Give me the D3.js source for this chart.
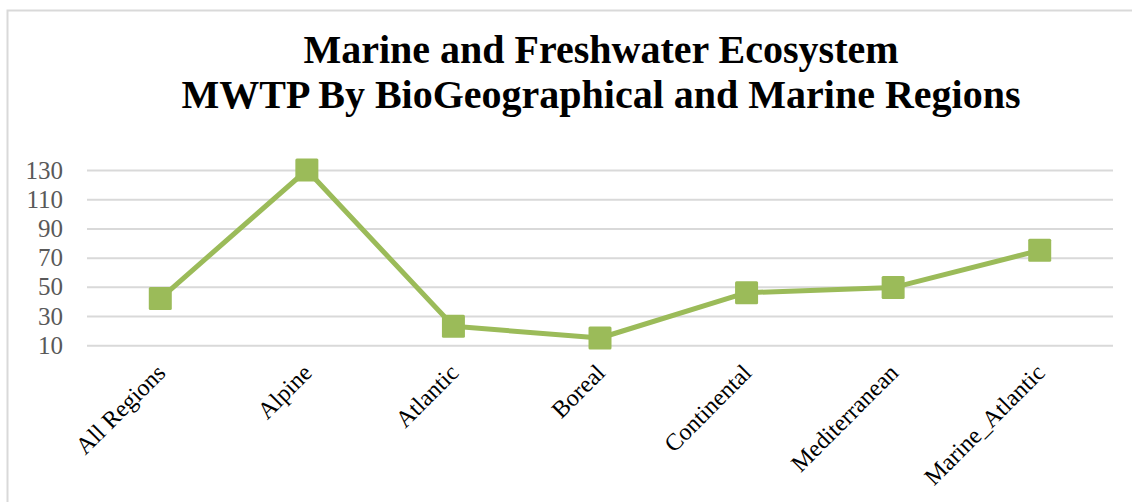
<!DOCTYPE html>
<html>
<head>
<meta charset="utf-8">
<script src="https://cdn.jsdelivr.net/npm/d3@7"></script>
<style>
  html, body { margin: 0; padding: 0; background: #fff; }
  svg { display: block; }
</style>
</head>
<body>
<svg id="chart" width="1132" height="502"></svg>
<script>
// Regions and their marginal willingness to pay
const regions = ["All Regions", "Alpine", "Atlantic", "Boreal", "Continental", "Mediterranean", "Marine_Atlantic"];
const mwtp = [42, 130, 23, 15, 46, 49.5, 75];
const yTicks = [10, 30, 50, 70, 90, 110, 130];
const titleLines = ["Marine and Freshwater Ecosystem", "MWTP By BioGeographical and Marine Regions"];

const W = 1132, H = 502;
const plot = { left: 87, right: 1113, top: 170, bottom: 345.3 };
const green = "#9BBB59";

const svg = d3.select("#chart");

// chart area frame
svg.append("rect")
  .attr("x", 7.5).attr("y", 10.5)
  .attr("width", W + 20).attr("height", H + 20)
  .attr("fill", "#fff")
  .attr("stroke", "#d9d9d9").attr("stroke-width", 2);

const x = d3.scalePoint().domain(regions).range([plot.left, plot.right]).padding(0.5);
const y = d3.scaleLinear().domain([10, 130]).range([plot.bottom, plot.top]);

// title
const titleX = 601;
const title = svg.append("text")
  .attr("x", titleX).attr("y", 63)
  .attr("text-anchor", "middle")
  .attr("font-family", "'Liberation Serif', 'Times New Roman', serif")
  .attr("font-weight", "bold")
  .attr("font-size", 40)
  .attr("fill", "#000");
titleLines.forEach((t, i) => {
  title.append("tspan").attr("x", titleX).attr("dy", i === 0 ? 0 : 45).text(t);
});

// horizontal gridlines + y labels
const yAxis = d3.axisLeft(y).tickValues(yTicks).tickSize(-(plot.right - plot.left)).tickPadding(24);
const gy = svg.append("g").attr("transform", `translate(${plot.left},0)`).call(yAxis);
gy.select(".domain").remove();
gy.selectAll(".tick line").attr("stroke", "#d9d9d9").attr("stroke-width", 2);
gy.selectAll(".tick text")
  .attr("fill", "#595959")
  .attr("font-family", "'Liberation Serif', 'Times New Roman', serif")
  .attr("font-size", 25);

// category labels, rotated
const xAxis = d3.axisBottom(x).tickSize(0).tickPadding(0);
const gx = svg.append("g").attr("transform", `translate(0,${plot.bottom})`).call(xAxis);
gx.select(".domain").remove();
gx.selectAll(".tick text")
  .attr("fill", "#000")
  .attr("font-family", "'Liberation Serif', 'Times New Roman', serif")
  .attr("font-size", 24)
  .attr("text-anchor", "end")
  .attr("dy", null)
  .attr("y", null)
  .attr("transform", "translate(6,29) rotate(-45)");

// series line
const line = d3.line().x((d, i) => x(regions[i])).y(d => y(d));
svg.append("path")
  .datum(mwtp)
  .attr("d", line)
  .attr("fill", "none")
  .attr("stroke", green)
  .attr("stroke-width", 5)
  .attr("stroke-linejoin", "round");

// square markers
const ms = 23;
svg.selectAll("rect.marker")
  .data(mwtp)
  .join("rect")
  .attr("class", "marker")
  .attr("x", (d, i) => x(regions[i]) - ms / 2)
  .attr("y", d => y(d) - ms / 2)
  .attr("width", ms).attr("height", ms)
  .attr("rx", 1.5)
  .attr("fill", green);
</script>
</body>
</html>
